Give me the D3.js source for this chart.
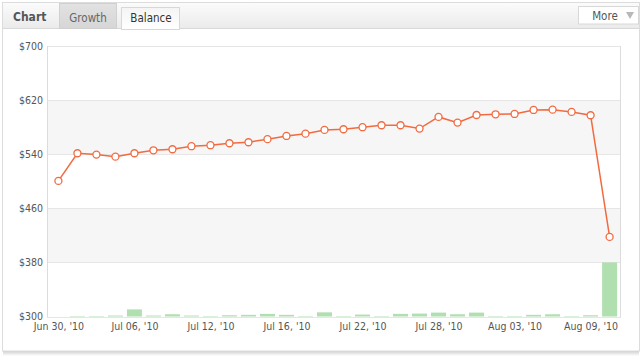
<!DOCTYPE html>
<html>
<head>
<meta charset="utf-8">
<script src="https://cdn.jsdelivr.net/npm/d3@7/dist/d3.min.js"></script>
<style>
  html, body { margin: 0; padding: 0; background: #fff; }
  svg { display: block; }
  text { font-family: "DejaVu Sans Condensed", "DejaVu Sans", Verdana, sans-serif; }
</style>
</head>
<body>
<svg id="chart" width="642" height="357"></svg>
<script>
// ---- data ----
const dates = ["2010-06-30","2010-07-01","2010-07-02","2010-07-05","2010-07-06","2010-07-07","2010-07-08","2010-07-09",
  "2010-07-12","2010-07-13","2010-07-14","2010-07-15","2010-07-16","2010-07-19","2010-07-20","2010-07-21","2010-07-22",
  "2010-07-23","2010-07-26","2010-07-27","2010-07-28","2010-07-29","2010-07-30","2010-08-02","2010-08-03","2010-08-04",
  "2010-08-05","2010-08-06","2010-08-09","2010-08-10"];
const balance = [500.5, 541.4, 539.4, 536.4, 541.4, 545.8, 547.3, 551.8, 553.3, 556.2, 557.7, 562.2, 567.0, 570.4,
  575.9, 576.9, 579.9, 582.8, 582.8, 577.9, 595.1, 586.7, 598.0, 599.0, 599.5, 605.4, 605.9, 602.5, 597.6, 417.7];
const volume = [0, 0.5, 0.5, 1, 7.3, 1, 2.3, 1, 0.5, 1.3, 1.7, 2.7, 1.7, 0.5, 4.3, 0.5, 2, 0.5, 2.7, 3, 4, 2.3, 4,
  0.5, 0.5, 1.7, 2.3, 0.5, 1.3, 55.7];
const yTicks = [300, 380, 460, 540, 620, 700];
const xTickDates = ["2010-06-30","2010-07-06","2010-07-12","2010-07-16","2010-07-22","2010-07-28","2010-08-03","2010-08-09"];
const tabs = ["Growth", "Balance"];

// ---- layout ----
const svg = d3.select("#chart");
const L = 47, R = 621, T = 46, B = 316.5;
const parse = d3.timeParse("%Y-%m-%d");
const fmt = d3.timeFormat("%b %d, '%y");

const defs = svg.append("defs");
const hg = defs.append("linearGradient").attr("id","hdr").attr("x1",0).attr("y1",0).attr("x2",0).attr("y2",1);
hg.append("stop").attr("offset","0%").attr("stop-color","#fbfbfb");
hg.append("stop").attr("offset","100%").attr("stop-color","#ebebeb");
const tg = defs.append("linearGradient").attr("id","tabG").attr("x1",0).attr("y1",0).attr("x2",0).attr("y2",1);
tg.append("stop").attr("offset","0%").attr("stop-color","#e2e2e2");
tg.append("stop").attr("offset","100%").attr("stop-color","#d6d6d6");
const ta = defs.append("linearGradient").attr("id","tabA").attr("x1",0).attr("y1",0).attr("x2",0).attr("y2",1);
ta.append("stop").attr("offset","0%").attr("stop-color","#f4f4f4");
ta.append("stop").attr("offset","100%").attr("stop-color","#ffffff");
const sg = defs.append("linearGradient").attr("id","shadow").attr("x1",0).attr("y1",0).attr("x2",0).attr("y2",1);
sg.append("stop").attr("offset","0%").attr("stop-color","#d0d0d0");
sg.append("stop").attr("offset","100%").attr("stop-color","#ffffff");

// container shadow + box
svg.append("rect").attr("x",3).attr("y",351).attr("width",636).attr("height",5).attr("fill","url(#shadow)");
svg.append("rect").attr("x",2.5).attr("y",2.5).attr("width",637).attr("height",348.5)
  .attr("fill","#fff").attr("stroke","#dcdcdc");
// header
svg.append("rect").attr("x",3).attr("y",3).attr("width",636).attr("height",25).attr("fill","url(#hdr)");
svg.append("line").attr("x1",3).attr("x2",639).attr("y1",28.5).attr("y2",28.5).attr("stroke","#d8d8d8");
svg.append("text").attr("x",13).attr("y",21).attr("font-size",12).attr("font-weight","bold")
  .attr("fill","#555").text("Chart");
// tabs
svg.append("rect").attr("x",59.5).attr("y",3.5).attr("width",57).attr("height",25).attr("fill","url(#tabG)").attr("stroke","#d0d0d0");
svg.append("text").attr("x",88).attr("y",21.5).attr("text-anchor","middle").attr("font-size",11.5).attr("fill","#666").text(tabs[0]);
svg.append("rect").attr("x",121.5).attr("y",7.5).attr("width",58).attr("height",22).attr("fill","url(#tabA)").attr("stroke","#d8d8d8");
svg.append("line").attr("x1",122).attr("x2",179).attr("y1",28.5).attr("y2",28.5).attr("stroke","#fff");
svg.append("text").attr("x",151).attr("y",22).attr("text-anchor","middle").attr("font-size",11.5).attr("fill","#333").text(tabs[1]);
// More button
svg.append("rect").attr("x",578.5).attr("y",6.5).attr("width",60).attr("height",17.5).attr("fill","#fff").attr("stroke","#d8d8d8");
svg.append("text").attr("x",605).attr("y",19.5).attr("text-anchor","middle").attr("font-size",11.5).attr("fill","#555").text("More");
svg.append("path").attr("d","M626,12 L634,12 L630,19 Z").attr("fill","#b8b8b8");

// ---- scales ----
const x = d3.scalePoint().domain(dates).range([L, R]).padding(0.6);
const y = d3.scaleLinear().domain([300, 700]).range([B, T]);
const yb = d3.scaleLinear().domain([0, 55.7]).range([B, y(380)]);

// alternating bands
const bands = [[380,460],[540,620]];
svg.append("g").selectAll("rect").data(bands).join("rect")
  .attr("x", L).attr("width", R - L)
  .attr("y", d => y(d[1])).attr("height", d => y(d[0]) - y(d[1]))
  .attr("fill", "#f6f6f6");

// gridlines
svg.append("g").selectAll("line").data(yTicks).join("line")
  .attr("x1", L).attr("x2", R)
  .attr("y1", d => Math.round(y(d)) + 0.5).attr("y2", d => Math.round(y(d)) + 0.5)
  .attr("stroke", "#e6e6e6");
// frame
svg.append("line").attr("x1",L+0.5).attr("x2",L+0.5).attr("y1",T).attr("y2",B+0.5).attr("stroke","#dcdcdc");
svg.append("line").attr("x1",R-0.5).attr("x2",R-0.5).attr("y1",T).attr("y2",B+0.5).attr("stroke","#dcdcdc");

// bars
const bw = 15;
svg.append("g").selectAll("rect").data(dates).join("rect")
  .attr("x", d => x(d) - bw/2).attr("width", bw)
  .attr("y", (d,i) => yb(volume[i])).attr("height", (d,i) => B - yb(volume[i]))
  .attr("fill", "#b0dfb0");

// y axis
const yAxis = d3.axisLeft(y).tickValues(yTicks).tickFormat(d3.format("$,.0f")).tickSize(0).tickPadding(4);
const gy = svg.append("g").attr("transform", `translate(${L},0)`).call(yAxis);
gy.select(".domain").remove();
gy.selectAll("text").attr("font-size", 10.5).attr("fill", "#555")
  .attr("font-family", "'DejaVu Sans Condensed','DejaVu Sans',sans-serif");

// x axis
const xAxis = d3.axisBottom(x).tickValues(xTickDates).tickFormat(d => fmt(parse(d))).tickSize(0).tickPadding(6.5);
const gx = svg.append("g").attr("transform", `translate(0,${B})`).call(xAxis);
gx.select(".domain").remove();
gx.selectAll("text").attr("font-size", 10.5).attr("fill", "#555")
  .attr("font-family", "'DejaVu Sans Condensed','DejaVu Sans',sans-serif");

// line
const line = d3.line().x((d,i) => x(dates[i])).y(d => y(d));
svg.append("path").datum(balance).attr("d", line)
  .attr("fill", "none").attr("stroke", "#f26a3f").attr("stroke-width", 1.5);
svg.append("g").selectAll("circle").data(balance).join("circle")
  .attr("cx", (d,i) => x(dates[i])).attr("cy", d => y(d)).attr("r", 3.5)
  .attr("fill", "#fff").attr("stroke", "#f26a3f").attr("stroke-width", 1.3);
</script>
</body>
</html>
